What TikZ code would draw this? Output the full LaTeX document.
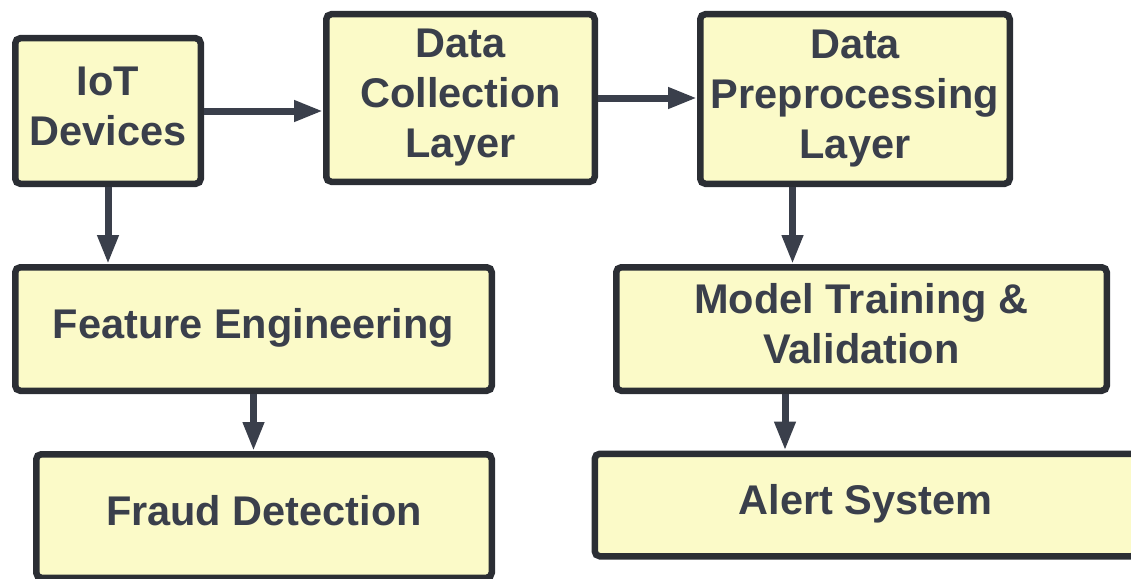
\documentclass[tikz,border=0pt]{standalone}
\usepackage{fontspec}
\setmainfont{Liberation Sans}
\usetikzlibrary{arrows.meta,calc}
\definecolor{boxfill}{HTML}{FBFAC8}
\definecolor{boxline}{HTML}{2B2E34}
\definecolor{txtcol}{HTML}{3A3F4B}
\definecolor{arrcol}{HTML}{3A3F4B}
\newcommand\myln{\rule[-12pt]{0pt}{42pt}}
\begin{document}
\begin{tikzpicture}[x=1pt,y=-1pt,
  procbox/.style={draw=boxline, fill=boxfill, line width=6.5pt, rounded corners=5pt,
    inner sep=1pt, align=center, text=txtcol,
    font=\fontsize{41.5}{50}\selectfont\bfseries},
  arr/.style={draw=arrcol, line width=7pt, -{Triangle[length=29pt,width=20pt]}}]
\useasboundingbox (0,0) rectangle (1131,578);
\node[procbox, minimum width=185.5pt, minimum height=145.5pt] (IoT) at (108,111) {\myln IoT\\\myln Devices};
\node[procbox, minimum width=268.5pt, minimum height=167.5pt] (DC) at (460.5,98) {\myln Data\\\myln Collection\\\myln Layer};
\node[procbox, minimum width=309.5pt, minimum height=169.5pt] (DP) at (855,99) {\myln Data\\\myln Preprocessing\\\myln Layer};
\node[procbox, minimum width=476.5pt, minimum height=123.5pt] (FE) at (253.5,329) {\myln Feature Engineering};
\node[procbox, minimum width=490.5pt, minimum height=123.5pt] (MT) at (861.5,329) {\myln Model Training \&\\\myln Validation};
\node[procbox, minimum width=455.5pt, minimum height=123.5pt] (FD) at (264,516) {\myln Fraud Detection};
\node[procbox, minimum width=541.5pt, minimum height=102.5pt] (AS) at (865.5,505) {\myln Alert System};
\coordinate (dpout) at ([xshift=-62.5pt]DP.south);
\coordinate (mtout) at ([xshift=-76.5pt]MT.south);
\draw[arr] (IoT.east) -- (IoT.east -| DC.west);
\draw[arr] (DC.east) -- (DC.east -| DP.west);
\draw[arr] (IoT.south) -- (IoT.south |- FE.north);
\draw[arr] (dpout) -- (dpout |- MT.north);
\draw[arr] (FE.south) -- (FE.south |- FD.north);
\draw[arr] (mtout) -- (mtout |- AS.north);
\end{tikzpicture}
\end{document}
